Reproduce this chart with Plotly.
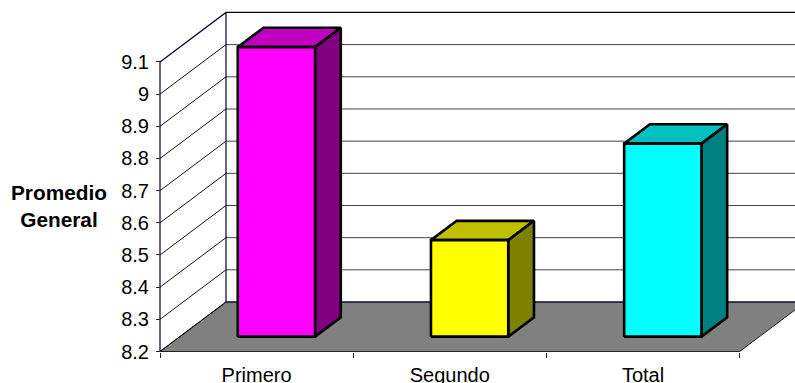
import plotly.graph_objects as go

categories = ["Primero", "Segundo", "Total"]
values = [9.1, 8.5, 8.8]
front_colors = ["#FF00FF", "#FFFF00", "#00FFFF"]
top_colors = ["#C000C0", "#C0C000", "#00C0C0"]
side_colors = ["#800080", "#808000", "#008080"]
y_ticks = [8.2, 8.3, 8.4, 8.5, 8.6, 8.7, 8.8, 8.9, 9.0, 9.1]
y_tick_labels = ["8.2", "8.3", "8.4", "8.5", "8.6", "8.7", "8.8", "8.9", "9", "9.1"]

W, H = 795, 383
X0_PX, X_UNIT = 160.0, 193.2
Y0_PX, Y_UNIT = 351.5, 321.7
DX = 66.0 / X_UNIT
DY = 49.5 / Y_UNIT
BASE, TOP = y_ticks[0], y_ticks[-1]
N = len(categories)


def proj(x, v, d):
    return x + d * DX, v + d * DY


def poly(points, fill, line_color, width, close=True):
    pts = [proj(*p) for p in points]
    if close:
        pts.append(pts[0])
    return go.Scatter(
        x=[p[0] for p in pts], y=[p[1] for p in pts], mode="lines",
        fill="toself" if fill else "none", fillcolor=fill,
        line=dict(color=line_color, width=width, shape="linear"),
        hoverinfo="skip", showlegend=False,
    )


fig = go.Figure()
WALL = "#000033"
GRID = "#444444"

# floor
fig.add_trace(poly([(0, BASE, 0), (N, BASE, 0), (N, BASE, 1), (0, BASE, 1)], "#808080", "#222222", 1))
# gridlines: side wall + back wall
for t in y_ticks[1:-1]:
    fig.add_trace(poly([(0, t, 0), (0, t, 1)], None, "#111111", 1, close=False))
    fig.add_trace(poly([(0, t, 1), (N, t, 1)], None, GRID, 1, close=False))
# wall frame
fig.add_trace(poly([(0, BASE, 0), (0, BASE, 1)], None, "#000000", 1, close=False))
fig.add_trace(poly([(0, TOP, 0), (0, TOP, 1), (N, TOP, 1)], None, WALL, 1.2, close=False))
fig.add_trace(poly([(0, BASE, 1), (0, TOP, 1)], None, WALL, 1.2, close=False))
fig.add_trace(poly([(0, BASE, 1), (N, BASE, 1)], None, WALL, 1.2, close=False))
fig.add_trace(poly([(0, BASE, 0), (0, TOP, 0)], None, WALL, 1.2, close=False))
fig.add_trace(poly([(0, BASE, 0), (N, BASE, 0)], None, "#222222", 1, close=False))

# bars
D0, D1 = 0.30, 0.69
for i, v in enumerate(values):
    a, b = i + 0.3, i + 0.7
    fig.add_trace(poly([(a, v, D0), (b, v, D0), (b, v, D1), (a, v, D1)], top_colors[i], "#000000", 2.6))
    fig.add_trace(poly([(b, BASE, D0), (b, BASE, D1), (b, v, D1), (b, v, D0)], side_colors[i], "#000000", 2.6))
    fig.add_trace(poly([(a, BASE, D0), (b, BASE, D0), (b, v, D0), (a, v, D0)], front_colors[i], "#000000", 2.6))

FONT = "Liberation Sans, Arial, sans-serif"
fig.update_layout(
    width=W, height=H, margin=dict(l=0, r=0, t=0, b=0),
    paper_bgcolor="white", plot_bgcolor="white", showlegend=False,
    font=dict(family=FONT, color="#000000", size=20),
    xaxis=dict(
        domain=[0, 1], range=[-X0_PX / X_UNIT, (W - X0_PX) / X_UNIT],
        anchor="free", position=(H - Y0_PX) / H, automargin=False,
        tickmode="array", tickvals=[i + 0.5 for i in range(N)], ticktext=categories,
        ticks="outside", ticklen=0, ticklabelstandoff=5, showgrid=False, zeroline=False, showline=False,
        minor=dict(tickmode="array", tickvals=list(range(N + 1)), ticks="outside", ticklen=5,
                   tickcolor="#222222", tickwidth=1, showgrid=False),
        tickfont=dict(size=20, family=FONT),
    ),
    yaxis=dict(
        domain=[0, 1], range=[BASE - (H - Y0_PX) / Y_UNIT, BASE + Y0_PX / Y_UNIT],
        anchor="free", position=X0_PX / W, automargin=False,
        tickmode="array", tickvals=y_ticks, ticktext=y_tick_labels,
        ticks="outside", ticklen=4, tickcolor="#222222", tickwidth=1, ticklabelstandoff=3,
        showgrid=False, zeroline=False, showline=False,
        tickfont=dict(size=20, family=FONT),
    ),
    annotations=[dict(
        text="<b>Promedio</b><br><b>General</b>", xref="paper", yref="paper",
        x=59 / W, y=1 - 206 / H, xanchor="center", yanchor="middle", showarrow=False, align="center",
        font=dict(size=20.8, family=FONT, color="#000000"),
    )],
)
fig.write_html(
    "out.html",
    config={"displayModeBar": False},
    post_script="document.body.style.margin='0';document.documentElement.style.overflow='hidden';",
)
